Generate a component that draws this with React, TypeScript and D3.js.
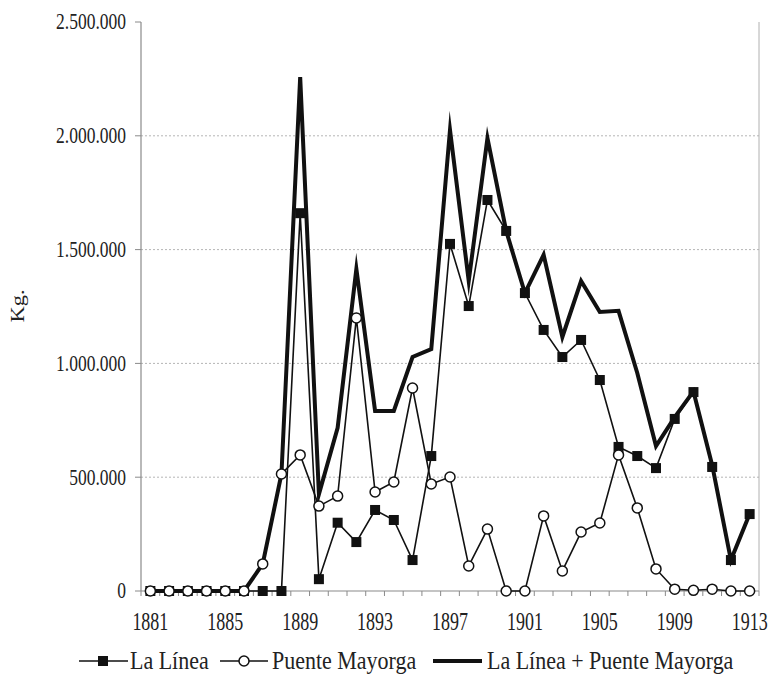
import React from "react";
import * as d3 from "d3";

const years: number[] = [
  1881, 1882, 1883, 1884, 1885, 1886, 1887, 1888, 1889, 1890, 1891,
  1892, 1893, 1894, 1895, 1896, 1897, 1898, 1899, 1900, 1901, 1902,
  1903, 1904, 1905, 1906, 1907, 1908, 1909, 1910, 1911, 1912, 1913,
];

const laLinea: number[] = [
  0, 0, 0, 0, 0, 0, 0, 0, 1660000, 52000, 300000,
  215000, 356000, 312000, 136000, 593000, 1525000, 1252000, 1718000, 1582000, 1309000, 1147000,
  1028000, 1103000, 927000, 633000, 593000, 540000, 756000, 874000, 545000, 136000, 338000,
];

const puenteMayorga: number[] = [
  0, 0, 0, 0, 0, 0, 119000, 514000, 598000, 373000, 417000,
  1200000, 435000, 479000, 892000, 470000, 501000, 110000, 272000, 0, 0, 330000,
  88000, 259000, 299000, 598000, 365000, 97000, 8000, 3000, 8000, 0, 0,
];

const total: number[] = [
  0, 0, 0, 0, 0, 0, 119000, 514000, 2258000, 425000, 717000,
  1415000, 791000, 791000, 1028000, 1063000, 2026000, 1362000, 1990000, 1582000, 1309000, 1477000,
  1116000, 1362000, 1226000, 1231000, 958000, 637000, 764000, 877000, 553000, 136000, 338000,
];

const yTicks: number[] = [0, 500000, 1000000, 1500000, 2000000, 2500000];
const xLabelYears: number[] = [1881, 1885, 1889, 1893, 1897, 1901, 1905, 1909, 1913];

const seriesNames = ["La Línea", "Puente Mayorga", "La Línea + Puente Mayorga"];
const yAxisTitle = "Kg.";

const FONT = "'Liberation Serif', 'Times New Roman', serif";
const TEXT = "#222";
const AXIS = "#8a8a8a";

export default function App() {
  const left = 141;
  const right = 759;
  const top = 22;
  const bottom = 591;

  const x = d3
    .scalePoint<number>()
    .domain(years)
    .range([left, right])
    .padding(0.5);
  const step = x.step();
  const y = d3.scaleLinear().domain([0, 2500000]).range([bottom, top]);

  const locale = d3.formatLocale({
    decimal: ",",
    thousands: ".",
    grouping: [3],
    currency: ["", "€"],
  });
  const fmt = locale.format(",.0f");

  const line = d3
    .line<number>()
    .x((_, i) => x(years[i]) as number)
    .y((d) => y(d));

  const boundaries = d3.range(years.length + 1).map((i) => left + i * step);
  const legY = 661;
  const legBase = 669;

  return (
    <svg width={771} height={676} style={{ display: "block", position: "absolute", left: 0, top: 0, background: "#fff" }}>
      <rect x={0} y={0} width={771} height={676} fill="#fff" />
      {/* gridlines */}
      {yTicks
        .filter((t) => t > 0 && t < 2500000)
        .map((t) => (
          <line
            key={"g" + t}
            x1={left}
            x2={right}
            y1={y(t)}
            y2={y(t)}
            stroke="#b5b5b5"
            strokeWidth={1}
            strokeDasharray="2,2"
          />
        ))}
      {/* right border */}
      <line x1={right} x2={right} y1={top} y2={bottom} stroke="#b0b0b0" strokeWidth={1} />
      {/* y axis */}
      <line x1={left} x2={left} y1={top} y2={bottom} stroke={AXIS} strokeWidth={1.2} />
      {yTicks.map((t) => (
        <g key={"yt" + t}>
          <line x1={left - 6} x2={left} y1={y(t)} y2={y(t)} stroke={AXIS} strokeWidth={1} />
          <text
            transform={`translate(126,${y(t)}) scale(1,1.35)`}
            y={5.5}
            textAnchor="end"
            fontFamily={FONT}
            fontSize={17.5}
            fill={TEXT}
          >
            {fmt(t)}
          </text>
        </g>
      ))}
      {/* x axis */}
      <line x1={left} x2={right} y1={bottom} y2={bottom} stroke={AXIS} strokeWidth={1.2} />
      {boundaries.map((bx, i) => (
        <line key={"xt" + i} x1={bx} x2={bx} y1={bottom} y2={bottom + 5} stroke={AXIS} strokeWidth={1} />
      ))}
      {xLabelYears.map((yr) => (
        <text
          key={"xl" + yr}
          transform={`translate(${x(yr)},630) scale(1,1.4)`}
          textAnchor="middle"
          fontFamily={FONT}
          fontSize={18}
          fill={TEXT}
        >
          {yr}
        </text>
      ))}
      {/* y title */}
      <text
        transform="translate(24,306) rotate(-90) scale(1.25,1)"
        textAnchor="middle"
        fontFamily={FONT}
        fontSize={18}
        fill={TEXT}
      >
        {yAxisTitle}
      </text>
      {/* lines */}
      <path d={line(total) || ""} fill="none" stroke="#111" strokeWidth={4} strokeLinejoin="miter" strokeMiterlimit={10} />
      <path d={line(laLinea) || ""} fill="none" stroke="#111" strokeWidth={1.6} />
      <path d={line(puenteMayorga) || ""} fill="none" stroke="#111" strokeWidth={1.6} />
      {/* markers */}
      {laLinea.map((v, i) => (
        <rect
          key={"sq" + i}
          x={(x(years[i]) as number) - 5}
          y={y(v) - 5}
          width={10}
          height={10}
          fill="#111"
        />
      ))}
      {puenteMayorga.map((v, i) => (
        <circle
          key={"c" + i}
          cx={x(years[i]) as number}
          cy={y(v)}
          r={5}
          fill="#fff"
          stroke="#111"
          strokeWidth={1.5}
        />
      ))}
      {/* legend */}
      <g>
        <line x1={79} x2={128} y1={legY} y2={legY} stroke="#111" strokeWidth={1.6} />
        <rect x={98} y={legY - 5} width={10} height={10} fill="#111" />
        <text transform={`translate(130,${legBase}) scale(1,1.15)`} fontFamily={FONT} fontSize={22} fill={TEXT}>
          {seriesNames[0]}
        </text>
        <line x1={220} x2={268} y1={legY} y2={legY} stroke="#111" strokeWidth={1.6} />
        <circle cx={244} cy={legY} r={5} fill="#fff" stroke="#111" strokeWidth={1.5} />
        <text transform={`translate(272,${legBase}) scale(1,1.15)`} fontFamily={FONT} fontSize={22} fill={TEXT}>
          {seriesNames[1]}
        </text>
        <line x1={433} x2={482} y1={legY} y2={legY} stroke="#111" strokeWidth={4} />
        <text transform={`translate(487,${legBase}) scale(1,1.15)`} fontFamily={FONT} fontSize={22} fill={TEXT}>
          {seriesNames[2]}
        </text>
      </g>
    </svg>
  );
}
